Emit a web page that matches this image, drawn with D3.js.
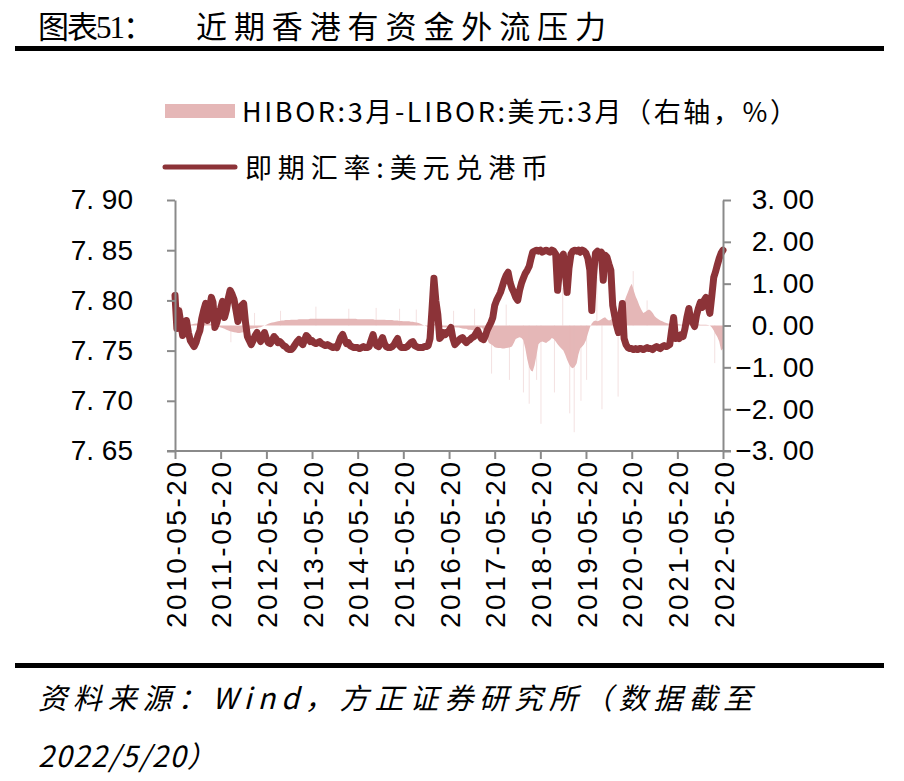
<!DOCTYPE html>
<html>
<head>
<meta charset="utf-8">
<script src="https://cdn.jsdelivr.net/npm/d3@7"></script>
<style>
  body { margin: 0; background: #fff; }
  text { fill: #000; }
</style>
</head>
<body>
<svg id="chart" width="904" height="781"></svg>
<script>
// ---- data ------------------------------------------------------------
// semi-monthly samples starting 2010-05-20, last one 2022-05-20
var startDate = '2010-05-20';
var endDate = '2022-05-20';

var xTickLabels = ['2010-05-20','2011-05-20','2012-05-20','2013-05-20','2014-05-20','2015-05-20',
  '2016-05-20','2017-05-20','2018-05-20','2019-05-20','2020-05-20','2021-05-20','2022-05-20'];

var leftTicks = [7.65, 7.70, 7.75, 7.80, 7.85, 7.90];
var rightTicks = [-3, -2, -1, 0, 1, 2, 3];

// 即期汇率:美元兑港币
var spotRate = [
  7.805,7.772,7.790,7.778,7.765,7.770,7.780,7.768,7.760,7.757,
  7.754,7.758,7.765,7.770,7.782,7.790,7.797,7.780,7.792,7.803,
  7.798,7.773,7.778,7.786,7.792,7.799,7.783,7.790,7.802,7.810,
  7.806,7.801,7.790,7.779,7.788,7.795,7.797,7.778,7.764,7.760,
  7.756,7.760,7.765,7.768,7.763,7.759,7.764,7.768,7.762,7.758,
  7.757,7.760,7.764,7.762,7.758,7.759,7.757,7.755,7.754,7.752,
  7.751,7.751,7.753,7.756,7.759,7.761,7.758,7.756,7.760,7.765,
  7.763,7.759,7.760,7.758,7.757,7.758,7.759,7.757,7.756,7.755,
  7.756,7.755,7.754,7.753,7.754,7.753,7.758,7.763,7.766,7.761,
  7.757,7.758,7.755,7.754,7.753,7.753,7.753,7.752,7.753,7.754,
  7.753,7.753,7.754,7.760,7.766,7.758,7.755,7.754,7.759,7.763,
  7.757,7.754,7.753,7.753,7.754,7.756,7.759,7.762,7.755,7.753,
  7.753,7.753,7.754,7.756,7.758,7.759,7.755,7.754,7.753,7.753,
  7.753,7.754,7.754,7.755,7.762,7.790,7.822,7.800,7.786,7.762,
  7.764,7.768,7.766,7.768,7.770,7.773,7.762,7.756,7.758,7.760,
  7.762,7.763,7.760,7.758,7.760,7.761,7.763,7.764,7.767,7.770,
  7.765,7.762,7.761,7.765,7.770,7.774,7.778,7.783,7.795,7.800,
  7.804,7.808,7.814,7.820,7.825,7.828,7.818,7.812,7.808,7.803,
  7.800,7.810,7.817,7.822,7.827,7.830,7.834,7.842,7.848,7.849,
  7.850,7.849,7.850,7.848,7.849,7.850,7.849,7.848,7.850,7.849,
  7.846,7.810,7.830,7.843,7.846,7.830,7.808,7.832,7.846,7.849,
  7.850,7.849,7.850,7.848,7.850,7.849,7.847,7.842,7.830,7.790,
  7.825,7.847,7.849,7.846,7.848,7.820,7.845,7.843,7.836,7.830,
  7.795,7.785,7.775,7.768,7.782,7.797,7.762,7.756,7.753,7.752,
  7.752,7.751,7.752,7.751,7.752,7.752,7.751,7.752,7.753,7.752,
  7.752,7.751,7.753,7.754,7.753,7.752,7.754,7.755,7.754,7.755,
  7.756,7.770,7.783,7.762,7.765,7.762,7.766,7.764,7.772,7.783,
  7.792,7.780,7.778,7.774,7.785,7.792,7.798,7.793,7.800,7.803,
  7.795,7.787,7.805,7.823,7.828,7.835,7.842,7.847,7.850
];

// HIBOR:3月-LIBOR:美元:3月 (%)
var spread = [
  -0.08,-0.12,-0.10,-0.06,-0.02,0.02,0.04,0.03,0.02,0.03,
  0.04,0.05,0.05,0.06,0.05,0.04,0.05,0.06,0.05,0.04,
  0.03,0.02,0.00,-0.03,-0.05,-0.06,-0.08,-0.10,-0.12,-0.14,
  -0.15,-0.16,-0.17,-0.18,-0.18,-0.17,-0.16,-0.15,-0.12,-0.10,
  -0.08,-0.07,-0.06,-0.06,-0.05,-0.04,-0.02,0.00,0.02,0.04,
  0.06,0.07,0.08,0.09,0.10,0.11,0.12,0.12,0.13,0.13,
  0.13,0.14,0.14,0.14,0.14,0.15,0.15,0.15,0.15,0.15,
  0.15,0.16,0.16,0.16,0.16,0.16,0.16,0.16,0.16,0.16,
  0.16,0.16,0.16,0.16,0.16,0.16,0.16,0.16,0.16,0.16,
  0.16,0.16,0.16,0.16,0.16,0.16,0.15,0.15,0.15,0.15,
  0.15,0.15,0.15,0.15,0.15,0.14,0.14,0.14,0.14,0.14,
  0.14,0.13,0.13,0.13,0.13,0.12,0.12,0.12,0.11,0.11,
  0.10,0.10,0.10,0.10,0.09,0.09,0.08,0.07,0.06,0.04,
  0.02,0.00,-0.02,-0.04,-0.02,0.03,0.05,0.02,0.00,-0.02,
  -0.03,-0.04,-0.05,-0.04,-0.03,-0.02,-0.03,-0.04,-0.05,-0.05,
  -0.06,-0.07,-0.08,-0.08,-0.10,-0.10,-0.11,-0.12,-0.10,-0.08,
  -0.06,-0.05,-0.10,-0.20,-0.32,-0.42,-0.45,-0.48,-0.52,-0.53,
  -0.54,-0.54,-0.55,-0.55,-0.54,-0.53,-0.52,-0.50,-0.42,-0.32,
  -0.30,-0.28,-0.30,-0.35,-0.55,-0.80,-1.00,-1.08,-1.10,-0.95,
  -0.70,-0.45,-0.40,-0.38,-0.40,-0.42,-0.38,-0.35,-0.30,-0.32,
  -0.38,-0.45,-0.50,-0.55,-0.60,-0.70,-0.82,-0.92,-1.00,-1.02,
  -0.98,-0.90,-0.70,-0.55,-0.50,-0.45,-0.35,-0.20,-0.05,0.05,
  0.10,0.12,0.10,0.12,0.15,0.18,0.20,0.15,0.12,0.14,
  0.18,0.22,0.30,0.35,0.38,0.45,0.55,0.68,0.80,0.92,
  1.00,0.85,0.70,0.60,0.48,0.38,0.30,0.32,0.36,0.38,
  0.35,0.30,0.22,0.18,0.15,0.12,0.10,0.08,0.06,0.05,
  0.04,0.04,0.03,0.03,0.03,0.03,0.02,0.03,0.03,0.02,
  0.03,0.03,0.02,0.02,0.03,0.03,0.02,0.02,0.02,0.02,
  0.01,0.00,-0.05,-0.12,-0.20,-0.27,-0.38,-0.60,-0.55
];

// single-day jumps of the spread (thin spikes)
var spikeDates = ['2010-07-10','2010-09-20','2011-01-15','2011-08-10','2012-02-15','2012-09-10',
  '2013-06-20','2014-03-10','2014-10-15','2015-04-20','2015-09-01','2016-01-10','2016-06-25',
  '2016-12-10','2017-04-25','2017-08-20','2017-09-15','2018-01-05','2018-02-20','2018-04-20',
  '2018-05-25','2018-09-10','2018-11-15','2019-01-10','2019-02-15','2019-04-10','2019-05-25',
  '2019-08-15','2019-09-25','2020-02-01','2020-06-01','2020-09-20','2022-03-15'];
var spikeValues = [0.45,-0.45,0.35,-0.40,0.30,0.35,
  0.45,0.40,0.42,0.40,0.38,0.50,0.35,
  0.40,-1.15,0.50,-1.30,-1.60,-1.87,-1.30,
  -2.35,-1.60,0.90,-2.10,-2.55,-1.80,-1.30,
  1.80,-2.00,-1.70,1.30,0.60,-0.90];

// ---- setup -----------------------------------------------------------
var parse = d3.timeParse('%Y-%m-%d');
var t0 = parse(startDate);
var dates = spotRate.map(function (d, i) {
  return d3.timeDay.offset(d3.timeMonth.offset(t0, Math.floor(i / 2)), i % 2 ? 15 : 0);
});

var plot = { left: 175, right: 723, top: 200, bottom: 451 };
var axisColor = '#8a8a8a';
var lineColor = '#8c3338';
var areaColor = '#e5b7b7';
var numFont = '"Liberation Sans", Arial, sans-serif';
var cjkFont = '"Noto Sans CJK SC", sans-serif';

var svg = d3.select('#chart');

var x = d3.scaleTime().domain([t0, parse(endDate)]).range([plot.left, plot.right]);
var yL = d3.scaleLinear().domain([7.65, 7.90]).range([plot.bottom, plot.top]);
var yR = d3.scaleLinear().domain([-3, 3]).range([plot.bottom, plot.top]);

// ---- title & rules ---------------------------------------------------
svg.append('text').attr('x', 38).attr('y', 38)
  .attr('textLength', 116).attr('lengthAdjust', 'spacing')
  .style('font-family', '"Liberation Serif", "Noto Sans CJK SC", serif').style('font-size', '31px')
  .text('图表51：');
svg.append('text').attr('x', 196).attr('y', 38)
  .attr('textLength', 410).attr('lengthAdjust', 'spacing')
  .style('font-family', cjkFont).style('font-size', '31px')
  .text('近期香港有资金外流压力');

svg.append('rect').attr('x', 15).attr('y', 46).attr('width', 869).attr('height', 5).attr('fill', '#000');
svg.append('rect').attr('x', 15).attr('y', 663).attr('width', 869).attr('height', 5).attr('fill', '#000');

// ---- legend ----------------------------------------------------------
svg.append('rect').attr('x', 165).attr('y', 104).attr('width', 70).attr('height', 14).attr('fill', areaColor);
svg.append('text').attr('x', 242).attr('y', 122)
  .attr('textLength', 555).attr('lengthAdjust', 'spacing')
  .style('font-family', cjkFont).style('font-size', '27px')
  .text('HIBOR:3月-LIBOR:美元:3月（右轴，%）');

svg.append('line').attr('x1', 165).attr('x2', 235).attr('y1', 167).attr('y2', 167)
  .attr('stroke', lineColor).attr('stroke-width', 5).attr('stroke-linecap', 'round');
svg.append('text').attr('x', 245).attr('y', 178)
  .attr('textLength', 303).attr('lengthAdjust', 'spacing')
  .style('font-family', cjkFont).style('font-size', '27px')
  .text('即期汇率:美元兑港币');

// ---- marks -----------------------------------------------------------
var area = d3.area()
  .x(function (d, i) { return x(dates[i]); })
  .y0(yR(0))
  .y1(function (d) { return yR(d); });

svg.append('path').datum(spread).attr('d', area).attr('fill', areaColor);

svg.append('g').selectAll('line').data(spikeValues).join('line')
  .attr('x1', function (d, i) { return x(parse(spikeDates[i])); })
  .attr('x2', function (d, i) { return x(parse(spikeDates[i])); })
  .attr('y1', yR(0))
  .attr('y2', function (d) { return yR(d); })
  .attr('stroke', areaColor).attr('stroke-width', 1).attr('opacity', 0.4);

var line = d3.line()
  .x(function (d, i) { return x(dates[i]); })
  .y(function (d) { return yL(d); });

svg.append('path').datum(spotRate).attr('d', line)
  .attr('fill', 'none').attr('stroke', lineColor).attr('stroke-width', 7)
  .attr('stroke-linejoin', 'round').attr('stroke-linecap', 'round');

// ---- axes ------------------------------------------------------------
function styleAxis(g) {
  g.select('.domain').attr('stroke', axisColor).attr('stroke-width', 2);
  g.selectAll('.tick line').attr('stroke', axisColor).attr('stroke-width', 2);
  g.selectAll('.tick text').style('font-family', numFont).style('font-size', '28px').attr('fill', '#000');
}

var fmt = function (d) { return d3.format('.2f')(d).replace('.', '. '); };

svg.append('g').attr('transform', 'translate(' + plot.left + ',0)')
  .call(d3.axisLeft(yL).tickValues(leftTicks).tickFormat(fmt).tickSize(8).tickPadding(34).tickSizeOuter(0))
  .call(styleAxis);

svg.append('g').attr('transform', 'translate(' + plot.right + ',0)')
  .call(d3.axisRight(yR).tickValues(rightTicks).tickFormat(fmt).tickSize(8).tickSizeOuter(0))
  .call(styleAxis)
  .call(function (g) {
    g.selectAll('.tick text').attr('text-anchor', 'end').attr('x', 91);
  });

var tickDates = xTickLabels.map(parse);
svg.append('g').attr('transform', 'translate(0,' + plot.bottom + ')')
  .call(d3.axisBottom(x).tickValues(tickDates).tickFormat(function (d, i) { return xTickLabels[i]; })
    .tickSize(8).tickSizeOuter(0))
  .call(styleAxis)
  .call(function (g) {
    g.select('.domain').attr('d', 'M' + (plot.left - 8) + ',0H' + (plot.right + 8));
    g.selectAll('.tick text')
      .attr('transform', 'rotate(-90)')
      .attr('x', -11).attr('y', 0).attr('dy', '0.36em')
      .attr('text-anchor', 'end')
      .attr('textLength', 166).attr('lengthAdjust', 'spacing');
  });

// ---- source ----------------------------------------------------------
svg.append('text').attr('x', 38).attr('y', 709)
  .attr('textLength', 714).attr('lengthAdjust', 'spacing')
  .style('font-family', cjkFont).style('font-size', '29px').style('font-style', 'italic')
  .text('资料来源：Wind，方正证券研究所（数据截至');
svg.append('text').attr('x', 38).attr('y', 767)
  .attr('textLength', 178).attr('lengthAdjust', 'spacing')
  .style('font-family', cjkFont).style('font-size', '29px').style('font-style', 'italic')
  .text('2022/5/20）');
</script>
</body>
</html>
